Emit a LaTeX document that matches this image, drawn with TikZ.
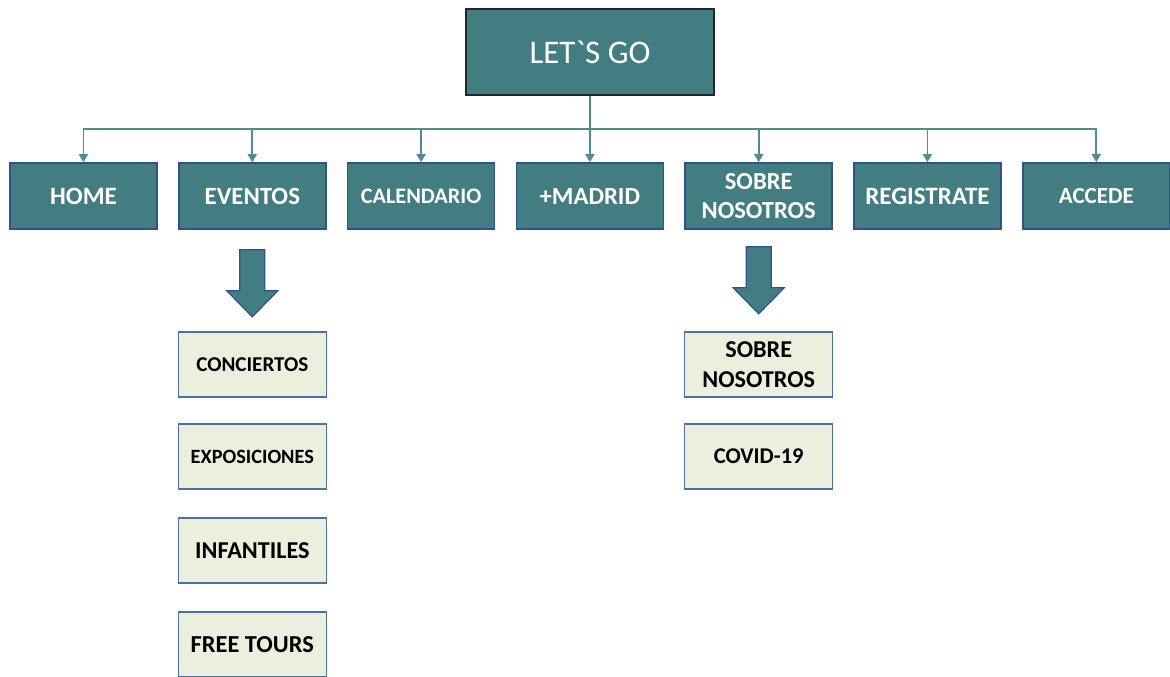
\documentclass[tikz,border=0pt]{standalone}
\usepackage{fontspec}
\setmainfont{Carlito}
\usepackage{tikz}
\usetikzlibrary{arrows.meta}
\usetikzlibrary{positioning}
\usetikzlibrary{calc}

\definecolor{tealbox}{RGB}{66,125,129}
\definecolor{tealline}{RGB}{80,140,144}
\definecolor{boxblue}{RGB}{47,82,143}
\definecolor{lightbox}{RGB}{235,240,222}
\definecolor{lightblue}{RGB}{74,112,170}

\tikzset{
  menu/.style={draw=boxblue, line width=1.6pt, fill=tealbox, text=white,
    font=\bfseries, minimum width=147pt, minimum height=66pt, inner sep=0pt,
    align=center},
  sub/.style={draw=lightblue, line width=1.4pt, fill=lightbox, text=black,
    font=\bfseries, minimum width=148pt, minimum height=65pt, inner sep=0pt,
    align=center},
  link/.style={draw=tealline, line width=1.8pt,
    -{Triangle[width=9pt,length=8pt]}},
  blockarrow/.style={draw=boxblue, line width=1.2pt, fill=tealbox}
}

% big down arrow hanging under a node
\newcommand{\downblock}[2]{%
  \draw[blockarrow] ($(#1.south)+(-12.5,#2)$) -- ++(25,0) -- ++(0,41)
    -- ++(13,0) -- ++(-25.5,26) -- ++(-25.5,-26) -- ++(13,0) -- cycle;}

\begin{document}
\begin{tikzpicture}[x=1pt, y=-1pt, node distance=20.2pt]
  \useasboundingbox (0,0) rectangle (1170,677);

  % root
  \node[draw=black!85, line width=1.6pt, fill=tealbox, text=white,
    minimum width=248pt, minimum height=86pt, inner sep=0pt,
    font=\fontsize{33}{40}\selectfont] (letsgo) at (590,52)
    {LET\textasciigrave S GO};

  % main menu
  \node[menu, font=\bfseries\fontsize{25}{30}\selectfont] (home) at (83.5,196) {HOME};
  \node[menu, right=of home, font=\bfseries\fontsize{24.8}{30}\selectfont] (eventos) {EVENTOS};
  \node[menu, right=of eventos, font=\bfseries\fontsize{22.2}{27}\selectfont] (calendario) {CALENDARIO};
  \node[menu, right=of calendario, font=\bfseries\fontsize{24.7}{30}\selectfont] (madrid) {+MADRID};
  \node[menu, right=of madrid, font=\bfseries\fontsize{24.5}{29.5}\selectfont] (sobre) {SOBRE\\NOSOTROS};
  \node[menu, right=of sobre, font=\bfseries\fontsize{25}{30}\selectfont] (registrate) {REGISTRATE};
  \node[menu, right=of registrate, font=\bfseries\fontsize{23}{28}\selectfont] (accede) {ACCEDE};

  % connectors
  \draw[link] (letsgo.south) -- ++(0,33) -| (home.north);
  \draw[link] (letsgo.south) -- ++(0,33) -| (eventos.north);
  \draw[link] (letsgo.south) -- ++(0,33) -| (calendario.north);
  \draw[link] (letsgo.south) -- (madrid.north);
  \draw[link] (letsgo.south) -- ++(0,33) -| (sobre.north);
  \draw[link] (letsgo.south) -- ++(0,33) -| (registrate.north);
  \draw[link] (letsgo.south) -- ++(0,33) -| (accede.north);

  % submenus
  \downblock{eventos}{20}
  \downblock{sobre}{17}

  \node[sub, below=101.5pt of eventos, font=\bfseries\fontsize{21.1}{25}\selectfont] (conciertos) {CONCIERTOS};
  \node[sub, below=25.6pt of conciertos, font=\bfseries\fontsize{20.3}{24}\selectfont] (exposiciones) {EXPOSICIONES};
  \node[sub, below=27.6pt of exposiciones, font=\bfseries\fontsize{24.2}{29}\selectfont] (infantiles) {INFANTILES};
  \node[sub, below=27.6pt of infantiles, font=\bfseries\fontsize{24.4}{29}\selectfont] (freetours) {FREE TOURS};

  \node[sub, below=101.5pt of sobre, font=\bfseries\fontsize{24.2}{30}\selectfont] (sobresub) {SOBRE\\NOSOTROS};
  \node[sub, below=25.6pt of sobresub, font=\bfseries\fontsize{22.5}{27}\selectfont] (covid) {COVID-19};
\end{tikzpicture}
\end{document}
